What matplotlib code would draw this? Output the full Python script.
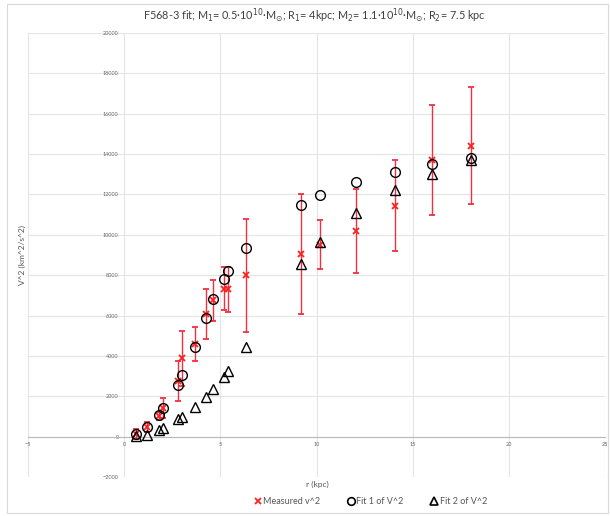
import matplotlib
matplotlib.use("Agg")
import matplotlib.pyplot as plt
from matplotlib.patches import Rectangle
from matplotlib.lines import Line2D

plt.rcParams['font.family'] = ['Lato', 'DejaVu Sans']

r_kpc = [0.63, 1.19, 1.82, 2.03, 2.80, 3.02, 3.66, 4.23, 4.63, 5.17, 5.42, 6.33,
         9.17, 10.20, 12.05, 14.08, 15.99, 18.04]
measured = [150, 460, 1040, 1400, 2750, 3890, 4600, 6090, 6760, 7330, 7300, 8000,
            9060, 9520, 10190, 11450, 13690, 14410]
measured_err = [250, 250, 200, 500, 1000, 1360, 840, 1240, 1010, 1075, 1100, 2800,
                2960, 1200, 2060, 2270, 2730, 2890]
fit1 = [150, 500, 1075, 1400, 2580, 3030, 4460, 5890, 6810, 7790, 8200, 9360,
        11470, 11970, 12600, 13130, 13530, 13800]
fit2 = [50, 100, 330, 430, 860, 990, 1450, 1950, 2370, 2940, 3270, 4460,
        8530, 9640, 11080, 12240, 13030, 13720]
x_ticks = [-5, 0, 5, 10, 15, 20, 25]
y_ticks = [-2000, 0, 2000, 4000, 6000, 8000, 10000, 12000, 14000, 16000, 18000, 20000]

W, H = 610, 516
fig = plt.figure(figsize=(W / 100, H / 100), dpi=100)
ax = fig.add_axes([28 / W, 1 - 477 / H, (605 - 28) / W, (477 - 33) / H])

ax.set_xlim(-5, 25)
ax.set_ylim(-2000, 20000)
ax.set_xticks(x_ticks)
ax.set_yticks(y_ticks)
ax.grid(True, color='#e4e4e4', lw=0.8)
ax.set_axisbelow(True)

for s in ['top', 'right']:
    ax.spines[s].set_visible(False)
ax.spines['left'].set_position(('data', 0))
ax.spines['bottom'].set_position(('data', 0))
ax.spines['left'].set_color('none')
ax.spines['bottom'].set_color('#b8b8b8')
ax.tick_params(axis='both', length=0, labelsize=4, labelcolor='#666666', pad=4)

ax.errorbar(r_kpc, measured, yerr=measured_err, fmt='x', color='#ff2020', ecolor='#f03040',
            elinewidth=1.0, capsize=2, capthick=0.8, markersize=4, mew=1.3, zorder=3)
ax.plot(r_kpc, fit1, 'o', mfc='none', mec='black', ms=7, mew=1.0, zorder=4)
ax.plot(r_kpc, fit2, '^', mfc='none', mec='black', ms=7.5, mew=1.0, zorder=4)

fig.text(314 / W, 1 - 16 / H,
         r"F568-3 fit; M$_1$= 0.5·10$^{10}$·M$_{\odot}$; R$_1$= 4kpc; "
         r"M$_2$= 1.1·10$^{10}$·M$_{\odot}$; R$_2$= 7.5 kpc",
         ha='center', va='center', fontsize=7.8, color='#404040')
fig.text(317 / W, 1 - 484 / H, 'r (kpc)', ha='center', va='center', fontsize=6, color='#555555')
fig.text(22 / W, 1 - 255 / H, 'V^2 (km^2/s^2)', ha='center', va='center', rotation=90,
         fontsize=6, color='#555555')

handles = [
    Line2D([], [], ls='none', marker='x', color='#ff2020', ms=4, mew=1.3),
    Line2D([], [], ls='none', marker='o', mfc='none', mec='black', ms=5.5, mew=1.2),
    Line2D([], [], ls='none', marker='^', mfc='none', mec='black', ms=5.5, mew=1.2),
]
labels = ['Measured v^2', 'Fit 1 of V^2', 'Fit 2 of V^2']
fig.legend(handles, labels, loc='center', bbox_to_anchor=(370 / W, 1 - 502 / H), ncol=3,
           frameon=False, fontsize=6.5, labelcolor='#555555', handletextpad=0.1,
           columnspacing=2.9, handlelength=1.0)

fig.add_artist(Rectangle((7 / W, 3 / H), (W - 9) / W, (H - 7) / H, transform=fig.transFigure,
                         fill=False, edgecolor='#d9d9d9', lw=0.8))

fig.savefig('out.png', dpi=100)
